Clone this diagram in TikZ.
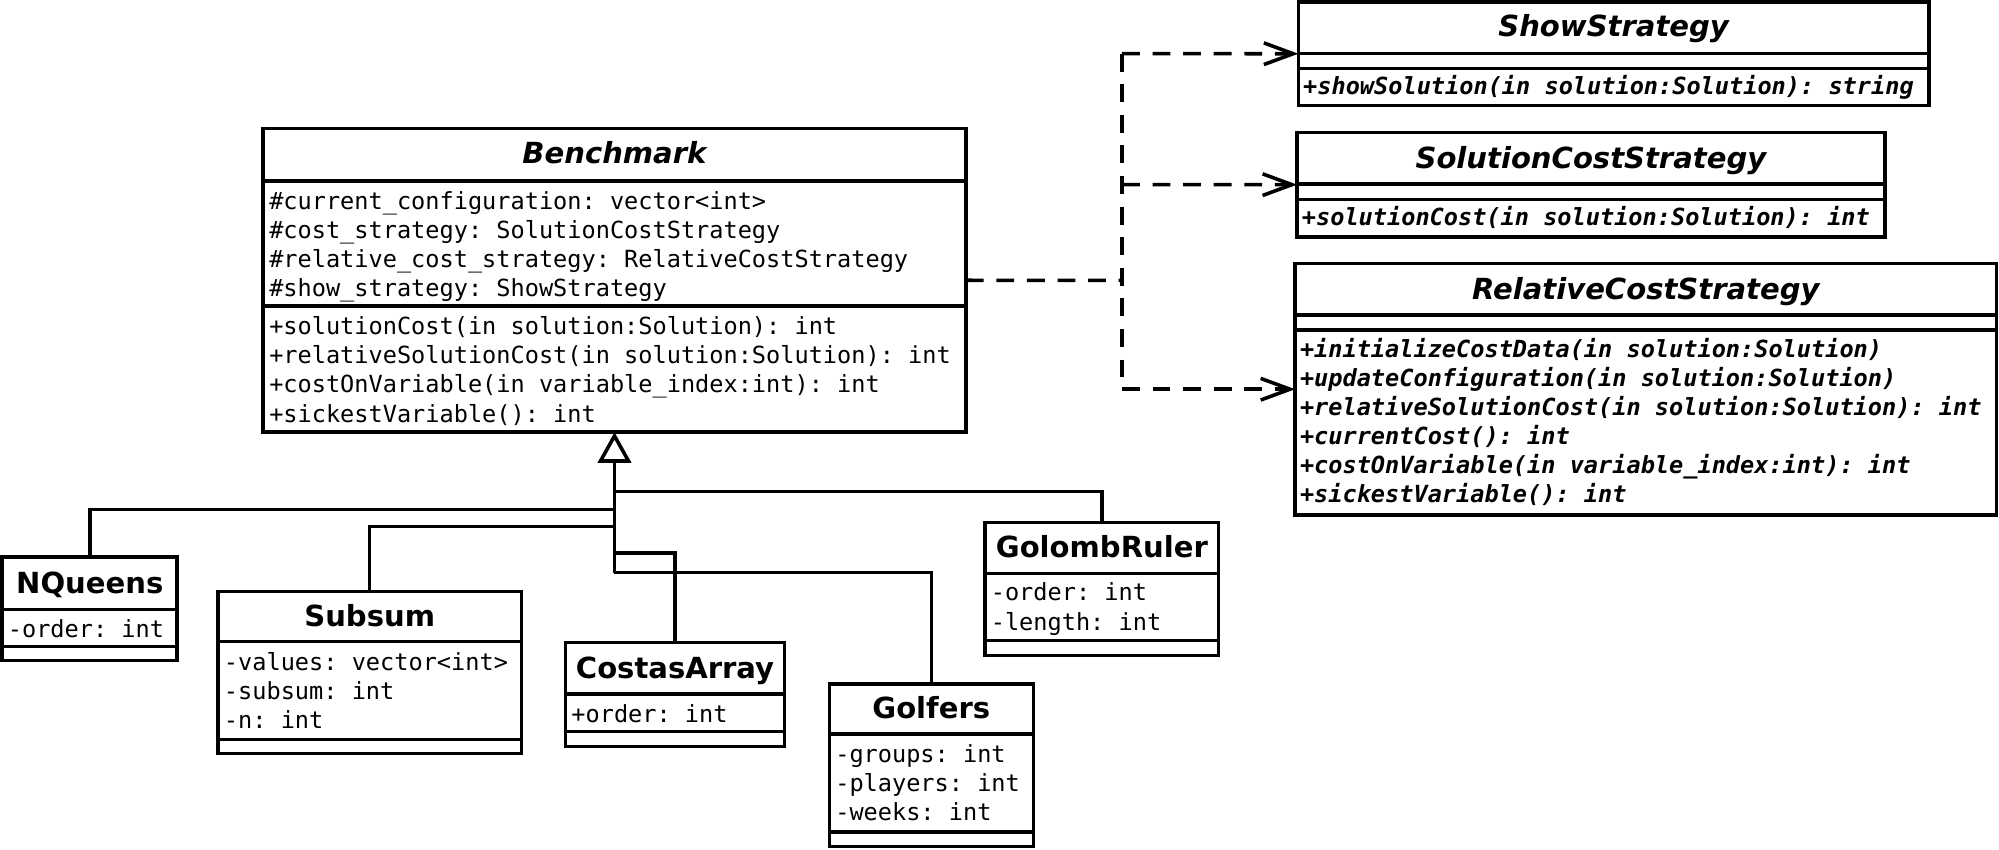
\documentclass[tikz,border=0pt]{standalone}
\usepackage{fontspec}
\setsansfont{DejaVu Sans}
\setmonofont{DejaVu Sans Mono}
\usetikzlibrary{arrows.meta}

\tikzset{
  box/.style={draw, line width=2.8pt, inner sep=0pt, outer sep=0pt, anchor=north west},
  sepl/.style={line width=2.8pt},
  ttl/.style={font=\fontsize{22.8}{24}\selectfont\sffamily\bfseries, inner sep=0pt, text height=0.73em, text depth=0pt, yshift=-4pt},
  ittl/.style={font=\fontsize{22.8}{24}\selectfont\sffamily\bfseries\itshape, inner sep=0pt, text height=0.73em, text depth=0pt, yshift=-4pt},
  mem/.style={font=\fontsize{18.5}{20}\selectfont\ttfamily, anchor=west, inner sep=0pt, text height=0.73em, text depth=0pt, yshift=-3.5pt},
  imem/.style={font=\fontsize{18.5}{20}\selectfont\ttfamily\bfseries\itshape, anchor=west, inner sep=0pt, text height=0.73em, text depth=0pt, yshift=-3.5pt},
  gen/.style={line width=2.8pt},
  dashline/.style={line width=2.8pt, dash pattern=on 14pt off 10pt},
  dep/.style={dashline, -{Straight Barb[length=23pt, width=17pt, line width=2.8pt]}},
}

\newcommand\umlbox[7]{%
  \node[box, minimum width={#4-#2}, minimum height={#5-#3}] (#1) at (#2,#3) {};
  \draw[sepl] (#2,#6) -- (#4,#6);
  \draw[sepl] (#2,#7) -- (#4,#7);
}

\begin{document}
\begin{tikzpicture}[x=1pt, y=-1pt]
\useasboundingbox (0,0) rectangle (1568,666);

% ---------- Benchmark ----------
\umlbox{bench}{206.5}{100.7}{757.5}{339}{142}{239.8}
\node[ittl] (benchT) at (482,120.8) {Benchmark};
\node[mem] (b1) at (211,156.9) {\#current\_configuration: vector<int>};
\node[mem] (b2) at (211,179.9) {\#cost\_strategy: SolutionCostStrategy};
\node[mem] (b3) at (211,202.7) {\#relative\_cost\_strategy: RelativeCostStrategy};
\node[mem] (b4) at (211,225.4) {\#show\_strategy: ShowStrategy};
\node[mem] (b5) at (211,255) {+solutionCost(in solution:Solution): int};
\node[mem] (b6) at (211,277.7) {+relativeSolutionCost(in solution:Solution): int};
\node[mem] (b7) at (211,300.7) {+costOnVariable(in variable\_index:int): int};
\node[mem] (b8) at (211,324) {+sickestVariable(): int};

% ---------- ShowStrategy ----------
\umlbox{show}{1018.4}{1.4}{1513}{82.9}{41.8}{53.6}
\node[ittl] (showT) at (1265.7,21.3) {ShowStrategy};
\node[imem] (s1) at (1022,66.7) {+showSolution(in solution:Solution): string};

% ---------- SolutionCostStrategy ----------
\umlbox{solc}{1017.4}{104}{1478.4}{185.7}{144.3}{156.4}
\node[ittl] (solcT) at (1247.9,124.2) {SolutionCostStrategy};
\node[imem] (c1) at (1021,170) {+solutionCost(in solution:Solution): int};

% ---------- RelativeCostStrategy ----------
\umlbox{relc}{1015.9}{206.6}{1566}{404}{247}{258.9}
\node[ittl] (relcT) at (1291,227) {RelativeCostStrategy};
\node[imem] (r1) at (1019.5,273.2) {+initializeCostData(in solution:Solution)};
\node[imem] (r2) at (1019.5,295.7) {+updateConfiguration(in solution:Solution)};
\node[imem] (r3) at (1019.5,318.5) {+relativeSolutionCost(in solution:Solution): int};
\node[imem] (r4) at (1019.5,341.2) {+currentCost(): int};
\node[imem] (r5) at (1019.5,364.5) {+costOnVariable(in variable\_index:int): int};
\node[imem] (r6) at (1019.5,387) {+sickestVariable(): int};

% ---------- NQueens ----------
\umlbox{nq}{1.75}{437.1}{139}{518.2}{478}{507.2}
\node[ttl] (nqT) at (70.4,457.5) {NQueens};
\node[mem] (n1) at (6,492.8) {-order: int};

% ---------- Subsum ----------
\umlbox{sub}{170.9}{464}{409}{590.9}{503.3}{579.9}
\node[ttl] (subT) at (290,483.6) {Subsum};
\node[mem] (u1) at (175.5,519) {-values: vector<int>};
\node[mem] (u2) at (175.5,541.5) {-subsum: int};
\node[mem] (u3) at (175.5,564.2) {-n: int};

% ---------- CostasArray ----------
\umlbox{cos}{443.6}{504.1}{615.5}{585.7}{544.4}{573.9}
\node[ttl] (cosT) at (529.5,524.3) {CostasArray};
\node[mem] (k1) at (448,559.5) {+order: int};

% ---------- Golfers ----------
\umlbox{gol}{650.5}{536.5}{810.6}{664.1}{575.7}{652.4}
\node[ttl] (golT) at (730.5,556.1) {Golfers};
\node[mem] (g1) at (655,590.9) {-groups: int};
\node[mem] (g2) at (655,613.9) {-players: int};
\node[mem] (g3) at (655,636.7) {-weeks: int};

% ---------- GolombRuler ----------
\umlbox{grl}{772.8}{409.9}{955.9}{514.3}{449.7}{502.5}
\node[ttl] (grlT) at (864.3,429.8) {GolombRuler};
\node[mem] (l1) at (777,464) {-order: int};
\node[mem] (l2) at (777,487.6) {-length: int};

% ---------- generalisation ----------
\coordinate (jR) at (482,385.6);
\coordinate (jN) at (482,399.5);
\coordinate (jS) at (482,413);
\coordinate (jC) at (482,433.8);
\coordinate (jG) at (482,449.2);
\draw[gen, -{Triangle[open, length=24pt, width=26pt, line width=2.8pt]}] (jG) -- (bench.south);
\draw[gen] (nq.north) |- (jN);
\draw[gen] (sub.north) |- (jS);
\draw[gen] (cos.north) |- (jC);
\draw[gen] (gol.north) |- (jG);
\draw[gen] (grl.north) |- (jR);

% ---------- dependencies ----------
\coordinate (dS) at (880,42.1);
\coordinate (dC) at (880,144.85);
\coordinate (dR) at (880,305.3);
\coordinate (dB) at (880,219.9);
\draw[dashline] (bench.east) -- (dB);
\draw[dashline] (dS) -- (dR);
\draw[dep] (dS) -- (show.west);
\draw[dep] (dC) -- (solc.west);
\draw[dep] (dR) -- (relc.west);
\end{tikzpicture}
\end{document}
